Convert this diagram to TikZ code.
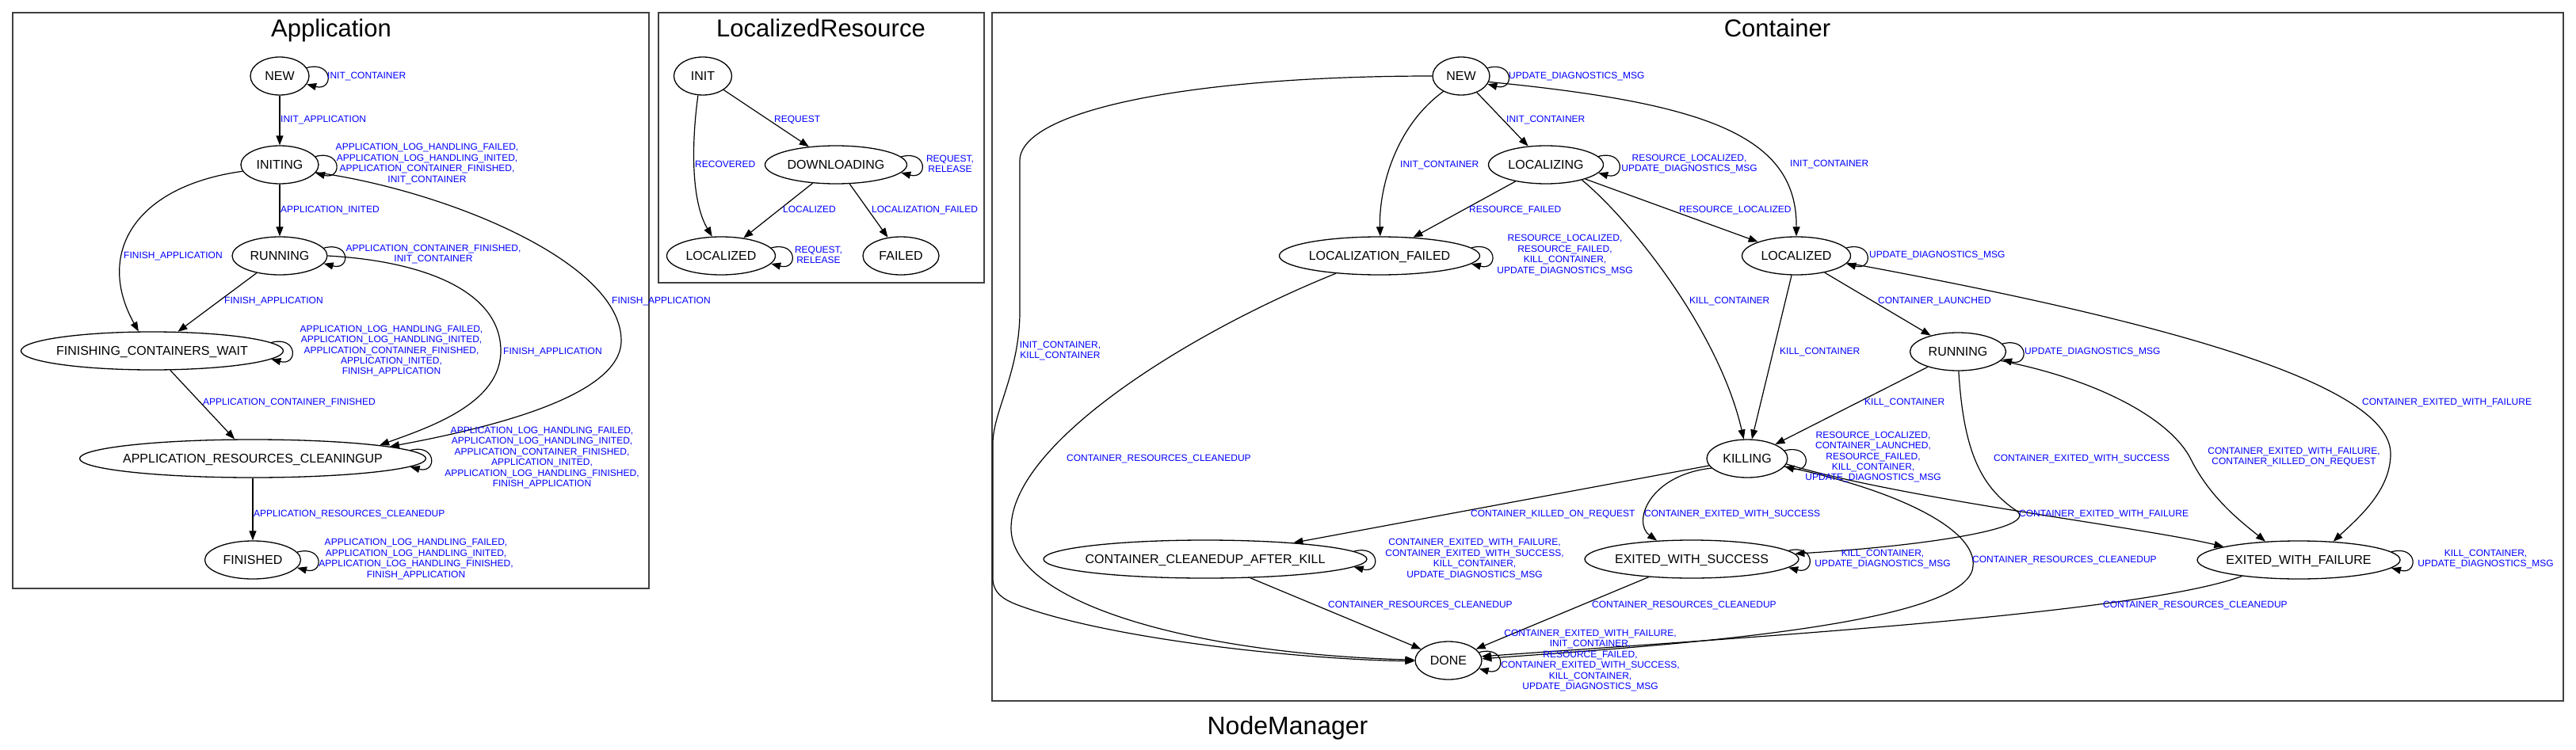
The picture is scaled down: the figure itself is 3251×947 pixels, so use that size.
\documentclass[tikz,border=0pt]{standalone}
\usepackage{fontspec}
\setmainfont{Liberation Sans}
\usetikzlibrary{arrows.meta,shapes.geometric}
\newcommand\zw[1]{\makebox[0pt]{#1}}
\newcommand\sloop[2]{\draw[edge] (#1.#2) .. controls +(34,-9) and +(34,9) .. (#1.-#2);}
\tikzset{
  st/.style={draw, ellipse, line width=1.3pt, minimum height=48pt, inner sep=0pt,
    font=\fontsize{16}{18}\selectfont, text height=11.5pt, text depth=0pt},
  lbl/.style={text=blue, font=\fontsize{12}{13.4}\selectfont, inner sep=0pt},
  slbl/.style={lbl, text height=8.6pt, text depth=0pt},
  mlbl/.style={lbl, align=center},
  edge/.style={line width=1.2pt, -{Triangle[length=12pt,width=9pt]}},
  cluster/.style={draw=black!75, line width=1.5pt},
  ttl/.style={font=\fontsize{31}{34}\selectfont, inner sep=0pt, anchor=base}
}
\begin{document}
\begin{tikzpicture}[x=1pt,y=-1pt]
\useasboundingbox (0,0) rectangle (3251,947);
% clusters
\draw[cluster] (16,16) rectangle (819,743);
\draw[cluster] (831,16) rectangle (1242,357);
\draw[cluster] (1252,16) rectangle (3235,885);
\node[ttl] (tApp) at (418,47) {Application};
\node[ttl] (tLR) at (1036,47) {LocalizedResource};
\node[ttl] (tCont) at (2243,47) {Container};
\node[ttl, font=\fontsize{32}{34}\selectfont] (tNM) at (1625,927) {NodeManager};

% ===== Application =====
\node[st, minimum width=74pt] (aNEW) at (353,96) {\zw{NEW}};
\node[st, minimum width=98pt] (aINITING) at (353,208) {\zw{INITING}};
\node[st, minimum width=120pt] (aRUN) at (353,323) {\zw{RUNNING}};
\node[st, minimum width=331pt] (aFCW) at (192,443) {\zw{FINISHING\_CONTAINERS\_WAIT}};
\node[st, minimum width=437pt] (aARC) at (319,579) {\zw{APPLICATION\_RESOURCES\_CLEANINGUP}};
\node[st, minimum width=121pt] (aFIN) at (319,707) {\zw{FINISHED}};

\sloop{aNEW}{17}
\draw[edge] (aNEW) -- (aINITING);
\sloop{aINITING}{13}
\draw[edge] (aINITING) -- (aRUN);
\draw[edge] (aINITING.190) .. controls (170,235) and (120,320) .. (aFCW.125);
\sloop{aRUN}{10}
\draw[edge] (aRUN) -- (aFCW);
\sloop{aFCW}{4}
\draw[edge] (aFCW) -- (aARC);
\draw[edge] (aRUN.0) .. controls (540,330) and (632,370) .. (632,443) .. controls (632,510) and (540,540) .. (aARC.6);
\draw[edge] (aINITING.-12) .. controls (560,240) and (784,330) .. (784,430) .. controls (784,500) and (620,540) .. (aARC.5);
\sloop{aARC}{3}
\draw[edge] (aARC) -- (aFIN);
\sloop{aFIN}{10}

\node[slbl, anchor=west] (la1) at (413,95) {INIT\_CONTAINER};
\node[slbl, anchor=west] (la2) at (354,150) {INIT\_APPLICATION};
\node[mlbl] (la3) at (539,207) {APPLICATION\_LOG\_HANDLING\_FAILED,\\APPLICATION\_LOG\_HANDLING\_INITED,\\APPLICATION\_CONTAINER\_FINISHED,\\INIT\_CONTAINER};
\node[slbl, anchor=west] (la4) at (354,264) {APPLICATION\_INITED};
\node[slbl, anchor=west] (la5) at (156,322) {FINISH\_APPLICATION};
\node[mlbl] (la6) at (547,321) {APPLICATION\_CONTAINER\_FINISHED,\\INIT\_CONTAINER};
\node[slbl, anchor=west] (la7) at (283,379) {FINISH\_APPLICATION};
\node[mlbl] (la8) at (494,443) {APPLICATION\_LOG\_HANDLING\_FAILED,\\APPLICATION\_LOG\_HANDLING\_INITED,\\APPLICATION\_CONTAINER\_FINISHED,\\APPLICATION\_INITED,\\FINISH\_APPLICATION};
\node[slbl, anchor=west] (la9) at (635,443) {FINISH\_APPLICATION};
\node[slbl, anchor=west] (la10) at (772,379) {FINISH\_APPLICATION};
\node[slbl, anchor=west] (la11) at (256,507) {APPLICATION\_CONTAINER\_FINISHED};
\node[mlbl] (la12) at (684,578) {APPLICATION\_LOG\_HANDLING\_FAILED,\\APPLICATION\_LOG\_HANDLING\_INITED,\\APPLICATION\_CONTAINER\_FINISHED,\\APPLICATION\_INITED,\\APPLICATION\_LOG\_HANDLING\_FINISHED,\\FINISH\_APPLICATION};
\node[slbl, anchor=west] (la13) at (320,648) {APPLICATION\_RESOURCES\_CLEANEDUP};
\node[mlbl] (la14) at (525,706) {APPLICATION\_LOG\_HANDLING\_FAILED,\\APPLICATION\_LOG\_HANDLING\_INITED,\\APPLICATION\_LOG\_HANDLING\_FINISHED,\\FINISH\_APPLICATION};

% ===== LocalizedResource =====
\node[st, minimum width=73pt] (rINIT) at (887,96) {\zw{INIT}};
\node[st, minimum width=179pt] (rDOWN) at (1055,208) {\zw{DOWNLOADING}};
\node[st, minimum width=137pt] (rLOC) at (910,323) {\zw{LOCALIZED}};
\node[st, minimum width=96pt] (rFAIL) at (1137,323) {\zw{FAILED}};

\draw[edge] (rINIT) -- (rDOWN);
\draw[edge] (rINIT.-104) .. controls (874,170) and (870,250) .. (rLOC.115);
\sloop{rDOWN}{7}
\draw[edge] (rDOWN) -- (rLOC);
\draw[edge] (rDOWN) -- (rFAIL);
\sloop{rLOC}{9}

\node[slbl, anchor=west] (lr1) at (977,150) {REQUEST};
\node[slbl, anchor=west] (lr2) at (877,207) {RECOVERED};
\node[mlbl] (lr3) at (1199,207) {REQUEST,\\RELEASE};
\node[slbl, anchor=west] (lr4) at (988,264) {LOCALIZED};
\node[slbl, anchor=west] (lr5) at (1100,264) {LOCALIZATION\_FAILED};
\node[mlbl] (lr6) at (1033,322) {REQUEST,\\RELEASE};

% ===== Container =====
\node[st, minimum width=72pt] (cNEW) at (1844,96) {\zw{NEW}};
\node[st, minimum width=145pt] (cLOCING) at (1951,208) {\zw{LOCALIZING}};
\node[st, minimum width=253pt] (cLF) at (1741,323) {\zw{LOCALIZATION\_FAILED}};
\node[st, minimum width=137pt] (cLOCED) at (2267,323) {\zw{LOCALIZED}};
\node[st, minimum width=121pt] (cRUN) at (2471,444) {\zw{RUNNING}};
\node[st, minimum width=102pt] (cKILL) at (2205,579) {\zw{KILLING}};
\node[st, minimum width=408pt] (cCCAK) at (1521,706) {\zw{CONTAINER\_CLEANEDUP\_AFTER\_KILL}};
\node[st, minimum width=270pt] (cEWS) at (2135,706) {\zw{EXITED\_WITH\_SUCCESS}};
\node[st, minimum width=256pt] (cEWF) at (2901,707) {\zw{EXITED\_WITH\_FAILURE}};
\node[st, minimum width=84pt] (cDONE) at (1828,834) {\zw{DONE}};

\sloop{cNEW}{17}
\draw[edge] (cNEW) -- (cLOCING);
\draw[edge] (cNEW.221) .. controls (1760,160) and (1740,240) .. (cLF.88);
\draw[edge] (cNEW.-12) .. controls (2150,130) and (2268,170) .. (cLOCED.90);
\draw[edge] (cNEW.180) .. controls (1500,96) and (1287,140) .. (1287,203) -- (1287,393)
  .. controls (1287,470) and (1253,520) .. (1253,560) -- (1253,730)
  .. controls (1253,748) and (1265,756) .. (1282,763)
  .. controls (1400,808) and (1650,833) .. (cDONE.181);
\draw[edge] (cLF.202) .. controls (1500,420) and (1276,560) .. (1276,667)
  .. controls (1276,760) and (1500,825) .. (cDONE.179);
\sloop{cLOCING}{9}
\draw[edge] (cLOCING) -- (cLF);
\draw[edge] (cLOCING) -- (cLOCED);
\draw[edge] (cLOCING.-23) .. controls (2060,280) and (2170,420) .. (cKILL.100);
\sloop{cLF}{5}
\sloop{cLOCED}{9}
\draw[edge] (cLOCED) -- (cKILL);
\draw[edge] (cLOCED) -- (cRUN);
\draw[edge] (cLOCED.-8) .. controls (2700,400) and (3017,480) .. (3017,573)
  .. controls (3017,620) and (2975,655) .. (cEWF.28);
\sloop{cRUN}{10}
\draw[edge] (cRUN) -- (cKILL);
\draw[edge] (cRUN.-88) .. controls (2478,570) and (2500,615) .. (2545,645)
  .. controls (2575,668) and (2420,690) .. (cEWS.3);
\draw[edge] (cRUN.-12) .. controls (2650,480) and (2740,530) .. (2765,580)
  .. controls (2790,630) and (2830,660) .. (cEWF.151);
\sloop{cKILL}{12}
\draw[edge] (cKILL.-8) .. controls (2400,630) and (2700,665) .. (cEWF.170);
\draw[edge] (cKILL) -- (cCCAK);
\draw[edge] (cKILL.195) .. controls (2080,600) and (2060,660) .. (cEWS.152);
\draw[edge] (cKILL.-12) .. controls (2400,620) and (2495,670) .. (2490,715)
  .. controls (2485,790) and (2100,815) .. (cDONE.3);
\sloop{cCCAK}{3}
\draw[edge] (cCCAK) -- (cDONE);
\sloop{cEWS}{5}
\draw[edge] (cEWS) -- (cDONE);
\sloop{cEWF}{5}
\draw[edge] (cEWF.196) .. controls (2700,775) and (2200,805) .. (cDONE.7);
\sloop{cDONE}{15}

\node[slbl, anchor=west] (lc1) at (1904,95) {UPDATE\_DIAGNOSTICS\_MSG};
\node[slbl, anchor=west] (lc2) at (1901,150) {INIT\_CONTAINER};
\node[slbl, anchor=west] (lc3) at (1767,207) {INIT\_CONTAINER};
\node[slbl, anchor=west] (lc4) at (2259,206) {INIT\_CONTAINER};
\node[mlbl] (lc5) at (1338,443) {INIT\_CONTAINER,\\KILL\_CONTAINER};
\node[mlbl] (lc6) at (2132,207) {RESOURCE\_LOCALIZED,\\UPDATE\_DIAGNOSTICS\_MSG};
\node[slbl, anchor=west] (lc7) at (1854,264) {RESOURCE\_FAILED};
\node[slbl, anchor=west] (lc8) at (2119,264) {RESOURCE\_LOCALIZED};
\node[slbl, anchor=west] (lc9) at (2132,379) {KILL\_CONTAINER};
\node[mlbl] (lc10) at (1975,322) {RESOURCE\_LOCALIZED,\\RESOURCE\_FAILED,\\KILL\_CONTAINER,\\UPDATE\_DIAGNOSTICS\_MSG};
\node[slbl, anchor=west] (lc11) at (1346,578) {CONTAINER\_RESOURCES\_CLEANEDUP};
\node[slbl, anchor=west] (lc12) at (2359,321) {UPDATE\_DIAGNOSTICS\_MSG};
\node[slbl, anchor=west] (lc13) at (2246,443) {KILL\_CONTAINER};
\node[slbl, anchor=west] (lc14) at (2370,379) {CONTAINER\_LAUNCHED};
\node[slbl, anchor=west] (lc15) at (2981,507) {CONTAINER\_EXITED\_WITH\_FAILURE};
\node[slbl, anchor=west] (lc16) at (2555,443) {UPDATE\_DIAGNOSTICS\_MSG};
\node[slbl, anchor=west] (lc17) at (2353,507) {KILL\_CONTAINER};
\node[slbl, anchor=west] (lc18) at (2516,578) {CONTAINER\_EXITED\_WITH\_SUCCESS};
\node[mlbl] (lc19) at (2895,577) {CONTAINER\_EXITED\_WITH\_FAILURE,\\CONTAINER\_KILLED\_ON\_REQUEST};
\node[mlbl] (lc20) at (2364,577) {RESOURCE\_LOCALIZED,\\CONTAINER\_LAUNCHED,\\RESOURCE\_FAILED,\\KILL\_CONTAINER,\\UPDATE\_DIAGNOSTICS\_MSG};
\node[slbl, anchor=west] (lc21) at (2548,648) {CONTAINER\_EXITED\_WITH\_FAILURE};
\node[slbl, anchor=west] (lc22) at (1856,648) {CONTAINER\_KILLED\_ON\_REQUEST};
\node[slbl, anchor=west] (lc23) at (2075,648) {CONTAINER\_EXITED\_WITH\_SUCCESS};
\node[slbl, anchor=west] (lc24) at (2489,706) {CONTAINER\_RESOURCES\_CLEANEDUP};
\node[mlbl] (lc25) at (1861,706) {CONTAINER\_EXITED\_WITH\_FAILURE,\\CONTAINER\_EXITED\_WITH\_SUCCESS,\\KILL\_CONTAINER,\\UPDATE\_DIAGNOSTICS\_MSG};
\node[slbl, anchor=west] (lc26) at (1676,763) {CONTAINER\_RESOURCES\_CLEANEDUP};
\node[mlbl] (lc27) at (2376,706) {KILL\_CONTAINER,\\UPDATE\_DIAGNOSTICS\_MSG};
\node[slbl, anchor=west] (lc28) at (2009,763) {CONTAINER\_RESOURCES\_CLEANEDUP};
\node[mlbl] (lc29) at (3137,706) {KILL\_CONTAINER,\\UPDATE\_DIAGNOSTICS\_MSG};
\node[slbl, anchor=west] (lc30) at (2654,763) {CONTAINER\_RESOURCES\_CLEANEDUP};
\node[mlbl] (lc31) at (2007,834) {CONTAINER\_EXITED\_WITH\_FAILURE,\\INIT\_CONTAINER,\\RESOURCE\_FAILED,\\CONTAINER\_EXITED\_WITH\_SUCCESS,\\KILL\_CONTAINER,\\UPDATE\_DIAGNOSTICS\_MSG};
\end{tikzpicture}
\end{document}
